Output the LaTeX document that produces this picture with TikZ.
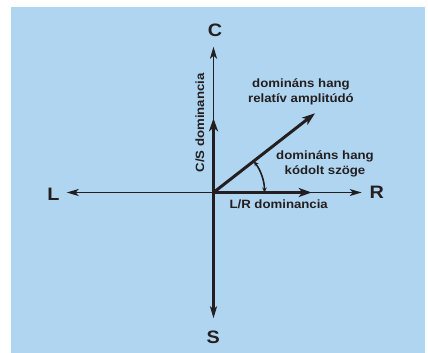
\documentclass[tikz,border=0pt]{standalone}
\usepackage{fontspec}
\newfontfamily\lblfont[FakeStretch=1.1]{Liberation Sans}
\usetikzlibrary{arrows.meta}
\definecolor{bgblue}{RGB}{176,213,240}
\definecolor{ink}{RGB}{35,31,32}
\tikzset{
  small/.style={font=\lblfont\bfseries\fontsize{12bp}{14.5bp}\selectfont, text=ink, align=center, inner sep=0pt},
  big/.style={font=\lblfont\bfseries\fontsize{18bp}{18bp}\selectfont, text=ink, inner sep=0pt},
  thinax/.style={draw=ink, line width=1.3bp, -{Stealth[length=12bp,width=7bp,inset=3bp]}},
  vax/.style={draw=ink, line width=2.2bp, -{Stealth[length=12bp,width=7bp,inset=3bp]}},
  boldvec/.style={draw=ink, line width=3bp, -{Stealth[length=13bp,width=9bp,inset=3.5bp]}},
  anglearc/.style={draw=ink, line width=1.6bp, {Stealth[length=5bp,width=4.5bp]}-{Stealth[length=5bp,width=4.5bp]}}
}
\begin{document}
\begin{tikzpicture}[x=1bp,y=-1bp]
\useasboundingbox (0,0) rectangle (428,353);
\fill[white] (0,0) rectangle (428,353);
\fill[bgblue] (11,7) rectangle (425,353);
% anchor points
\coordinate (O) at (213.5,192.5);
\coordinate (Ltip) at (66.7,192.5);
\coordinate (Rtip) at (361.7,192.5);
\coordinate (Ctip) at (213.5,46.7);
\coordinate (Stip) at (213.5,318.3);
\coordinate (LRtip) at (311.7,192.5);
\coordinate (CStip) at (213.5,118.3);
\coordinate (Vtip) at (315,113.3);
% axes
\draw[thinax] (O) -- (Ltip);
\draw[thinax] (O) -- (Rtip);
\draw[thinax, line width=1.7bp] (O) -- (Ctip);
\draw[vax] (O) -- (Stip);
% bold vectors
\draw[boldvec] (O) -- (LRtip);
\draw[boldvec, line width=2.6bp] (O) -- (CStip);
\draw[boldvec] (O) -- (Vtip);
% angle arc
\draw[anglearc] ([shift={(0:51)}]O) arc[start angle=0, end angle=-37.8, radius=51];
% labels
\node[big] (Llab) at (53.3,194) {L};
\node[big] (Rlab) at (376.7,192.5) {R};
\node[big] (Clab) at (215,30.7) {C};
\node[big] (Slab) at (213.3,337.3) {S};
\node[small, rotate=90] (cs) at (200,123) {C/S dominancia};
\node[small] (lr) at (278.7,204.3) {L/R dominancia};
\node[small] (amp) at (301,92) {domináns hang\\relatív amplitúdó};
\node[small] (ang) at (325,164) {domináns hang\\kódolt szöge};
\end{tikzpicture}
\end{document}
